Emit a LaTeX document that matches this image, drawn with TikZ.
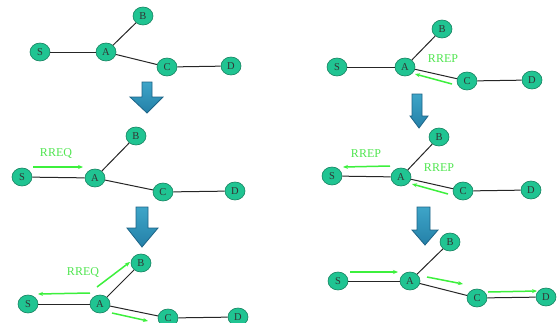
\documentclass[tikz,border=0pt]{standalone}
\usepackage{fontspec}
\setmainfont{Liberation Serif}
\usetikzlibrary{arrows.meta,shapes.geometric}
\definecolor{nodefill}{RGB}{32,196,146}
\definecolor{nodeedge}{RGB}{22,130,96}
\definecolor{msg}{RGB}{60,240,60}
\definecolor{msgtext}{RGB}{80,230,80}
\definecolor{bigfill}{RGB}{36,128,168}
\definecolor{bigtop}{RGB}{62,165,200}
\definecolor{bigedge}{RGB}{29,100,135}
\tikzset{
  nd/.style={ellipse,draw=nodeedge,line width=0.6pt,fill=nodefill,minimum width=20pt,minimum height=18pt,inner sep=0pt,font=\fontsize{10.5}{10.5}\selectfont,text=black!80},
  lk/.style={draw=black!85,line width=1pt},
  msgarrow/.style={draw=msg,line width=1.5pt,-{Stealth[length=5pt,width=4pt]}},
  lbl/.style={text=msgtext,font=\fontsize{12}{12}\selectfont,inner sep=0pt},
  bigarrow/.style={draw=bigedge,line width=0.8pt,top color=bigtop,bottom color=bigfill}
}
\begin{document}
\begin{tikzpicture}[x=1pt,y=-1pt]
\clip (0,0) rectangle (557,322);
\fill[white] (0,0) rectangle (557,322);
% big arrows
\path[bigarrow] (142,82) -- (152,82) -- (152,97) -- (163,97) -- (147,113) -- (130,97) -- (142,97) -- cycle;
\path[bigarrow] (136,207) -- (148,207) -- (148,228) -- (158,228) -- (142,247) -- (127,228) -- (136,228) -- cycle;
\path[bigarrow] (412,94) -- (422,94) -- (422,116) -- (428,116) -- (419,128) -- (410,116) -- (412,116) -- cycle;
\path[bigarrow] (417,207) -- (430,207) -- (430,230) -- (438,230) -- (425,245) -- (412,230) -- (417,230) -- cycle;
% panel 1
\node[nd] (S1) at (40,52) {S};
\node[nd] (A1) at (106,52) {A};
\node[nd] (B1) at (143,16) {B};
\node[nd] (C1) at (167,67) {C};
\node[nd] (D1) at (231,66) {D};
\draw[lk] (S1) -- (A1); \draw[lk] (A1) -- (B1); \draw[lk] (A1) -- (C1); \draw[lk] (C1) -- (D1);
% panel 2
\node[nd] (S2) at (22,177) {S};
\node[nd] (A2) at (95,178) {A};
\node[nd] (B2) at (136,136) {B};
\node[nd] (C2) at (163,192) {C};
\node[nd] (D2) at (235,191) {D};
\draw[lk] (S2) -- (A2); \draw[lk] (A2) -- (B2); \draw[lk] (A2) -- (C2); \draw[lk] (C2) -- (D2);
\node[lbl] (L2) at (56,153) {RREQ};
\coordinate (m2a) at (33,167); \coordinate (m2b) at (83,167);
\draw[msgarrow] (m2a) -- (m2b);
% panel 3
\node[nd] (S3) at (28,304) {S};
\node[nd] (A3) at (100,304) {A};
\node[nd] (B3) at (141,263) {B};
\node[nd] (C3) at (168,318) {C};
\node[nd] (D3) at (238,317) {D};
\draw[lk] (S3) -- (A3); \draw[lk] (A3) -- (B3); \draw[lk] (A3) -- (C3); \draw[lk] (C3) -- (D3);
\node[lbl] (L3) at (83,272) {RREQ};
\coordinate (m3a) at (90,293); \coordinate (m3b) at (38,294);
\coordinate (m3c) at (97,287); \coordinate (m3d) at (130,262);
\coordinate (m3e) at (112,313); \coordinate (m3f) at (148,321);
\draw[msgarrow] (m3a) -- (m3b);
\draw[msgarrow] (m3c) -- (m3d);
\draw[msgarrow] (m3e) -- (m3f);
% panel 4
\node[nd] (S4) at (337,67) {S};
\node[nd] (A4) at (405,67) {A};
\node[nd] (B4) at (442,29) {B};
\node[nd] (C4) at (467,81) {C};
\node[nd] (D4) at (532,80) {D};
\draw[lk] (S4) -- (A4); \draw[lk] (A4) -- (B4); \draw[lk] (A4) -- (C4); \draw[lk] (C4) -- (D4);
\node[lbl] (L4) at (443,59) {RREP};
\coordinate (m4a) at (452,84); \coordinate (m4b) at (415,74);
\draw[msgarrow] (m4a) -- (m4b);
% panel 5
\node[nd] (S5) at (332,176) {S};
\node[nd] (A5) at (401,177) {A};
\node[nd] (B5) at (439,137) {B};
\node[nd] (C5) at (463,191) {C};
\node[nd] (D5) at (531,190) {D};
\draw[lk] (S5) -- (A5); \draw[lk] (A5) -- (B5); \draw[lk] (A5) -- (C5); \draw[lk] (C5) -- (D5);
\node[lbl] (L5a) at (366,154) {RREP};
\node[lbl] (L5b) at (439,168) {RREP};
\coordinate (m5a) at (390,166); \coordinate (m5b) at (343,167);
\coordinate (m5c) at (448,194); \coordinate (m5d) at (412,184);
\draw[msgarrow] (m5a) -- (m5b);
\draw[msgarrow] (m5c) -- (m5d);
% panel 6
\node[nd] (S6) at (338,281) {S};
\node[nd] (A6) at (410,281) {A};
\node[nd] (B6) at (450,242) {B};
\node[nd] (C6) at (477,298) {C};
\node[nd] (D6) at (546,297) {D};
\draw[lk] (S6) -- (A6); \draw[lk] (A6) -- (B6); \draw[lk] (A6) -- (C6); \draw[lk] (C6) -- (D6);
\coordinate (m6a) at (350,272); \coordinate (m6b) at (398,272);
\coordinate (m6c) at (427,277); \coordinate (m6d) at (463,284);
\coordinate (m6e) at (488,292); \coordinate (m6f) at (537,291);
\draw[msgarrow] (m6a) -- (m6b);
\draw[msgarrow] (m6c) -- (m6d);
\draw[msgarrow] (m6e) -- (m6f);
\end{tikzpicture}
\end{document}
